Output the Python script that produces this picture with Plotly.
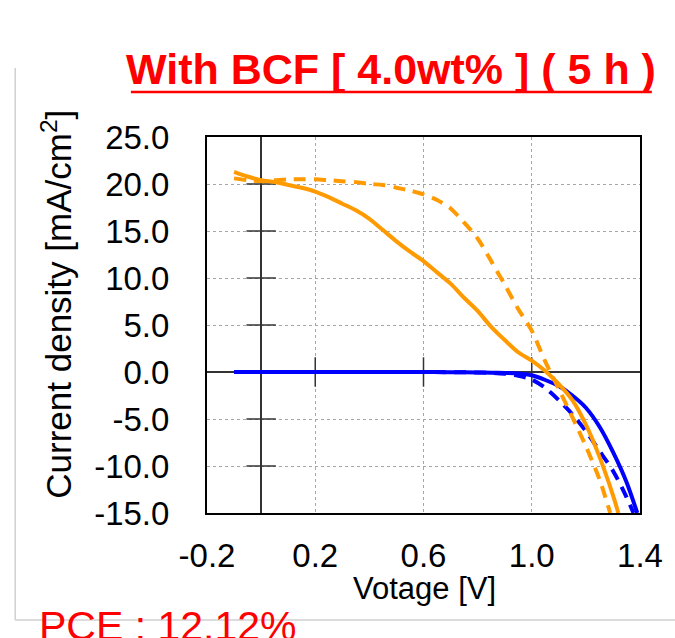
import plotly.graph_objects as go

# ---- data ----
x_or_solid = [-0.1, -0.05, 0.0, 0.05, 0.1, 0.15, 0.2, 0.25, 0.3, 0.35, 0.4, 0.45, 0.5, 0.55, 0.6, 0.65,
              0.7, 0.75, 0.8, 0.85, 0.9, 0.95, 1.0, 1.05, 1.1, 1.15, 1.2, 1.25, 1.3, 1.32]
j_or_solid = [21.3, 20.8, 20.4, 20.2, 19.9, 19.6, 19.2, 18.6, 17.9, 17.2, 16.3, 15.1, 13.9, 12.8, 11.8, 10.6,
              9.4, 7.9, 6.5, 4.8, 3.4, 2.1, 1.2, 0.1, -1.3, -3.0, -5.6, -9.0, -13.1, -15.0]

x_or_dash = [-0.1, -0.05, 0.0, 0.05, 0.1, 0.15, 0.2, 0.25, 0.3, 0.35, 0.4, 0.45, 0.5, 0.55, 0.6, 0.65,
             0.7, 0.75, 0.8, 0.85, 0.9, 0.95, 1.0, 1.05, 1.1, 1.15, 1.2, 1.25, 1.29]
j_or_dash = [20.6, 20.4, 20.3, 20.4, 20.5, 20.5, 20.5, 20.4, 20.3, 20.2, 20.0, 19.9, 19.6, 19.3, 18.9, 18.3,
             17.4, 15.9, 14.2, 11.8, 9.3, 6.7, 4.4, 1.1, -1.8, -4.8, -7.9, -11.4, -15.0]

x_bl_solid = [-0.1, 0.0, 0.2, 0.4, 0.6, 0.7, 0.8, 0.85, 0.9, 0.95, 1.0, 1.05, 1.1, 1.15, 1.2, 1.25, 1.3, 1.35, 1.39]
j_bl_solid = [0.0, 0.0, 0.0, 0.0, 0.0, -0.02, -0.05, -0.07, -0.1, -0.15, -0.35, -0.85, -1.5, -2.5, -3.8, -5.8,
              -8.5, -11.7, -15.0]

x_bl_dash = [-0.1, 0.0, 0.2, 0.4, 0.6, 0.8, 0.85, 0.9, 0.95, 1.0, 1.05, 1.1, 1.15, 1.2, 1.25, 1.3, 1.35, 1.376]
j_bl_dash = [0.0, 0.0, 0.0, 0.0, 0.0, -0.05, -0.1, -0.2, -0.4, -0.8, -1.7, -3.0, -4.5, -6.3, -8.4, -10.5, -13.3, -15.0]

x_ticks = [-0.2, 0.2, 0.6, 1.0, 1.4]
y_ticks = [-15, -10, -5, 0, 5, 10, 15, 20, 25]
x_inner_ticks = [0.2, 0.6, 1.0]
y_inner_ticks = [-10, -5, 5, 10, 15, 20]

title_text = "With BCF [ 4.0wt% ] ( 5 h )"
x_title = "Votage [V]"
y_title = "Current density [mA/cm<sup>2</sup>]"
pce_text = "PCE : 12.12%"

ORANGE = "#FF9A00"
BLUE = "#0000FF"
TICKC = "#333333"
FONT = "Arial, Liberation Sans, sans-serif"

fig = go.Figure()

# cross tick marks on the zero lines
fig.add_trace(go.Scatter(x=[0] * len(y_inner_ticks), y=y_inner_ticks, mode="markers",
                         marker=dict(symbol="line-ew-open", size=21, color=TICKC,
                                     line=dict(color=TICKC, width=1.5)),
                         hoverinfo="skip", showlegend=False))
fig.add_trace(go.Scatter(x=x_inner_ticks, y=[0] * len(x_inner_ticks), mode="markers",
                         marker=dict(symbol="line-ns-open", size=21, color=TICKC,
                                     line=dict(color=TICKC, width=1.5)),
                         hoverinfo="skip", showlegend=False))

fig.add_trace(go.Scatter(x=x_bl_dash, y=j_bl_dash, mode="lines",
                         line=dict(color=BLUE, width=4, dash="12px,8px", shape="spline", smoothing=0.8),
                         showlegend=False))
fig.add_trace(go.Scatter(x=x_bl_solid, y=j_bl_solid, mode="lines",
                         line=dict(color=BLUE, width=4, shape="spline", smoothing=0.8), showlegend=False))
fig.add_trace(go.Scatter(x=x_or_dash, y=j_or_dash, mode="lines",
                         line=dict(color=ORANGE, width=4, dash="12px,8px", shape="spline", smoothing=0.8),
                         showlegend=False))
fig.add_trace(go.Scatter(x=x_or_solid, y=j_or_solid, mode="lines",
                         line=dict(color=ORANGE, width=4, shape="spline", smoothing=0.8), showlegend=False))

L, R, T, B = 207, 30, 137, 125
W, H = 675, 638
pw, ph = W - L - R, H - T - B


def px(xp):
    return (xp - L) / pw


def py(yp):
    return (T + ph - yp) / ph


fig.update_layout(
    width=W, height=H,
    margin=dict(l=L, r=R, t=T, b=B, pad=0),
    paper_bgcolor="white", plot_bgcolor="white",
    font=dict(family=FONT, color="black"),
    xaxis=dict(range=[-0.2, 1.4], tickvals=x_ticks, ticktext=[f"{v:.1f}" for v in x_ticks],
               showgrid=True, gridcolor="#a6a6a6", gridwidth=1, griddash="3px,3px",
               zeroline=True, zerolinecolor=TICKC, zerolinewidth=1.5,
               showline=True, linecolor="black", linewidth=2, mirror=True,
               ticks="", ticklabelstandoff=12, tickfont=dict(size=33, family=FONT)),
    yaxis=dict(range=[-15, 25], tickvals=y_ticks, ticktext=[f"{v:.1f}" for v in y_ticks],
               showgrid=True, gridcolor="#a6a6a6", gridwidth=1, griddash="3px,3px",
               zeroline=True, zerolinecolor=TICKC, zerolinewidth=1.5,
               showline=True, linecolor="black", linewidth=2, mirror=True,
               ticks="", ticklabelstandoff=29, tickfont=dict(size=33, family=FONT)),
)

# light gray outer frame (left and bottom edges)
fig.add_shape(type="line", xref="paper", yref="paper", x0=px(13), x1=px(13), y0=py(68), y1=py(620),
              line=dict(color="#d0d0d0", width=1.5), layer="below")
fig.add_shape(type="line", xref="paper", yref="paper", x0=px(13), x1=px(700), y0=py(620), y1=py(620),
              line=dict(color="#d0d0d0", width=1.5), layer="below")

# title with underline
fig.add_annotation(text="<b>" + title_text + "</b>", xref="paper", yref="paper",
                   x=px(393.5), y=py(69), xanchor="center", yanchor="middle", showarrow=False,
                   font=dict(size=43, color="#FF0000", family=FONT))
fig.add_shape(type="line", xref="paper", yref="paper", x0=px(130), x1=px(657), y0=py(92), y1=py(92),
              line=dict(color="#FF0000", width=2.5))

fig.add_annotation(text=x_title, xref="paper", yref="paper", x=px(427), y=py(588),
                   xanchor="center", yanchor="middle", showarrow=False,
                   font=dict(size=31, color="black", family=FONT))
fig.add_annotation(text=y_title, xref="paper", yref="paper", x=px(55), y=py(304),
                   xanchor="center", yanchor="middle", textangle=-90, showarrow=False,
                   font=dict(size=35, color="black", family=FONT))
fig.add_annotation(text=pce_text, xref="paper", yref="paper", x=px(35), y=py(626),
                   xanchor="left", yanchor="middle", showarrow=False,
                   font=dict(size=41, color="#FF0000", family=FONT))

fig.write_html("out.html")
